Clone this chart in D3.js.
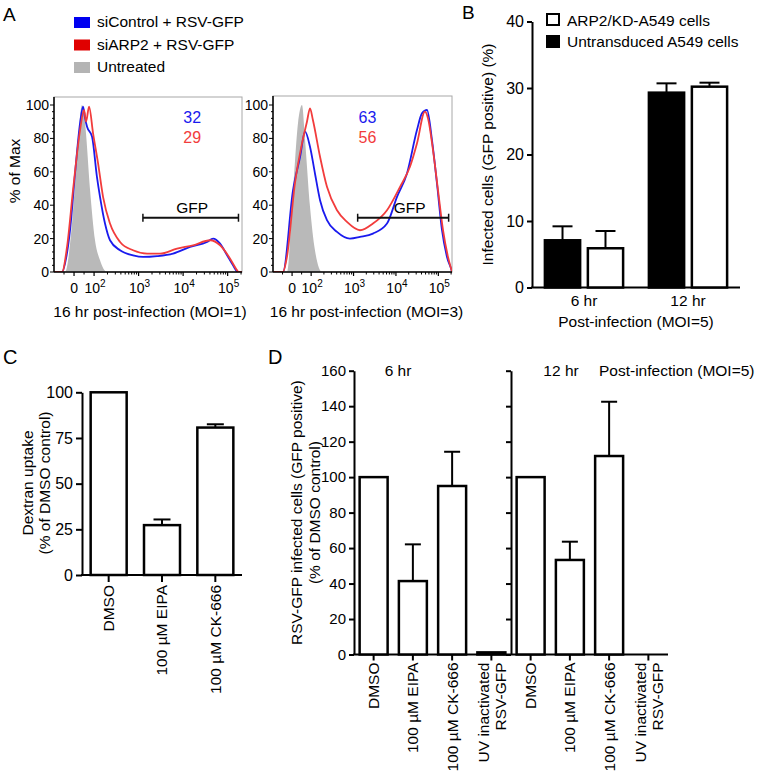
<!DOCTYPE html>
<html><head><meta charset="utf-8">
<script src="https://cdn.jsdelivr.net/npm/d3@7"></script>
<style>
body{margin:0;background:#fff}
svg{display:block}
text{font-family:"Liberation Sans",Arial,Helvetica,sans-serif;fill:#000}
</style>
</head><body>
<svg id="c" width="759" height="774"></svg>
<script>
// ================= DATA =================
// Panel A : flow cytometry histograms  [fluorescence, % of max]
const aLegend = ["siControl + RSV-GFP", "siARP2 + RSV-GFP", "Untreated"];
const a1Control = [[-100,0],[-60,0],[-40,8],[-20,25],[5,59],[30,89],[45,99],[55,92],[65,87],[90,81],[116,57],[136,45],[176,29],[228,19],[383,13],[750,10],[1259,9],[2600,9.5],[5940,11],[14300,15],[34500,18],[47100,20],[67600,17],[97200,10],[132000,4],[171000,0],[210000,0]];
const a1Arp2 = [[-100,0],[-60,0],[-35,15],[-5,49],[30,85],[50,97],[60,90],[75,99],[95,83],[123,65],[159,45],[228,29],[383,18],[750,13],[1550,11],[3020,11],[7310,14],[16700,16],[40400,19],[67600,16],[113500,8],[163000,1],[175000,0],[210000,0]];
const a1Untreated = [[-100,0],[-45,0],[-10,29],[15,69],[40,100],[55,89],[80,49],[105,19],[136,7],[195,0],[210000,0]];
const a2Control = [[-100,0],[-48,0],[5,49],[42,69],[68,84],[94,75],[123,59],[162,43],[236,31],[407,24],[824,20],[1419,21],[2870,23],[6150,29],[10600,45],[18200,59],[31300,85],[41100,95],[54000,97],[70800,79],[92900,53],[122000,25],[160000,9],[205000,1],[210000,0]];
const a2Arp2 = [[-100,0],[-48,0],[-27,9],[15,53],[52,77],[78,90],[94,98],[110,91],[162,69],[236,51],[407,37],[700,30],[1419,25],[2870,29],[6150,37],[12500,51],[21400,63],[31300,77],[48400,96],[57000,92],[74800,73],[98200,49],[129000,25],[169000,9],[205000,1],[210000,0]];
const a2Untreated = [[-100,0],[-27,0],[5,49],[31,89],[52,100],[68,79],[94,39],[123,13],[180,0],[210000,0]];
const a1Pct = [32, 29];
const a2Pct = [63, 56];
const aGate = [1250, 175000];
const aXTickValues = [0, 1e2, 1e3, 1e4, 1e5];
const aXTickLabels = [["0",""],["10","2"],["10","3"],["10","4"],["10","5"]];
const aXMinor = [-50, 50, 200,300,400,500,600,700,800,900, 2000,3000,4000,5000,6000,7000,8000,9000, 20000,30000,40000,50000,60000,70000,80000,90000, 200000];
const aYTicks = [0, 20, 40, 60, 80, 100];
const aXTitles = ["16 hr post-infection (MOI=1)", "16 hr post-infection (MOI=3)"];

// Panel B
const bGroups = ["6 hr", "12 hr"];
const bSeries = ["Untransduced A549 cells", "ARP2/KD-A549 cells"];
const bUntransduced = [7.1, 29.3];
const bUntransducedErr = [2.1, 1.4];
const bArp2kd = [5.9, 30.2];
const bArp2kdErr = [2.6, 0.6];
const bYTicks = [0, 10, 20, 30, 40];

// Panel C
const cCategories = ["DMSO", "100 \u00b5M EIPA", "100 \u00b5M CK-666"];
const cValues = [100, 27.3, 80.7];
const cErr = [0, 3.1, 1.8];
const cYTicks = [0, 25, 50, 75, 100];

// Panel D
const dGroups = ["6 hr", "12 hr"];
const dTreatments = ["DMSO", "100 \u00b5M EIPA", "100 \u00b5M CK-666", "UV inactivated|RSV-GFP"];
const d6Values = [100, 41.4, 95, 1.2];
const d6Err = [0, 20.7, 19.3, 0];
const d12Values = [100, 53.3, 111.9, 0];
const d12Err = [0, 10.3, 30.6, 0];
const dYTicks = [0, 20, 40, 60, 80, 100, 120, 140, 160];

// ================= DRAW =================
const svg = d3.select("#c");
const FS = 15.5;

function label(x, y, t, size, anchor) {
  return svg.append("text").attr("x", x).attr("y", y).attr("font-size", size || FS)
    .attr("text-anchor", anchor || "start").text(t);
}
function vLabel(x, y, lines, size, gap) {
  const t = svg.append("text").attr("transform", `translate(${x},${y}) rotate(-90)`)
    .attr("font-size", size || FS).attr("text-anchor", "middle");
  lines.forEach((l, i) => t.append("tspan").attr("x", 0).attr("y", i * (gap || 0)).text(l));
  return t;
}

// panel letters
label(3, 21, "A", 19); label(462, 19, "B", 19); label(3, 364, "C", 20); label(268, 364, "D", 20);

// ---------- Panel A ----------
const legColors = ["#0000f0", "#e00000", "#b4b4b4"];
aLegend.forEach((t, i) => {
  svg.append("rect").attr("x", 74).attr("y", 17 + i * 22.5).attr("width", 16).attr("height", 11).attr("fill", legColors[i]);
  label(97, 27 + i * 22.5, t, FS);
});

function biex(v) { return v >= 100 ? Math.log10(v) : 1.55 + 0.0045 * v; }

function histPanel(id, left, right, top, ctrl, arp, untr, pct, gfpX, pctX, titleDx, title) {
  const bottom = 272;
  const lin = d3.scaleLinear().domain([biex(-100), biex(210000)]).range([left, right]);
  const x = v => lin(biex(v));
  const y = d3.scaleLinear().domain([0, 100]).range([bottom, 105]);
  const g = svg.append("g");
  g.append("clipPath").attr("id", id).append("rect").attr("x", left).attr("y", top).attr("width", right - left).attr("height", bottom - top);
  // frame
  g.append("rect").attr("x", left).attr("y", top).attr("width", right - left).attr("height", bottom - top)
    .attr("fill", "none").attr("stroke", "#a8a8a8").attr("stroke-width", 1);
  const cg = g.append("g").attr("clip-path", `url(#${id})`);
  const area = d3.area().x(d => x(d[0])).y0(y(0)).y1(d => y(d[1])).curve(d3.curveMonotoneX);
  const line = d3.line().x(d => x(d[0])).y(d => y(d[1])).curve(d3.curveMonotoneX);
  cg.append("path").datum(untr).attr("d", area).attr("fill", "#b9b9b9");
  cg.append("path").datum(ctrl).attr("d", line).attr("fill", "none").attr("stroke", "#1a1aee").attr("stroke-width", 1.8);
  cg.append("path").datum(arp).attr("d", line).attr("fill", "none").attr("stroke", "#f23c3c").attr("stroke-width", 1.8);
  // axes
  g.append("line").attr("x1", left).attr("x2", right).attr("y1", bottom).attr("y2", bottom).attr("stroke", "#000").attr("stroke-width", 1.5);
  g.append("line").attr("x1", left).attr("x2", left).attr("y1", top).attr("y2", bottom).attr("stroke", "#000").attr("stroke-width", 1.5);
  aXTickValues.forEach((v, i) => {
    g.append("line").attr("x1", x(v)).attr("x2", x(v)).attr("y1", bottom).attr("y2", bottom + 4).attr("stroke", "#000").attr("stroke-width", 1.2);
    const t = g.append("text").attr("x", x(v) + (aXTickLabels[i][1] ? 1 : 0)).attr("y", 293).attr("font-size", 14).attr("text-anchor", "middle");
    t.append("tspan").text(aXTickLabels[i][0]);
    if (aXTickLabels[i][1]) t.append("tspan").attr("dy", -6).attr("font-size", 10).text(aXTickLabels[i][1]);
  });
  aXMinor.forEach(v => {
    g.append("line").attr("x1", x(v)).attr("x2", x(v)).attr("y1", bottom).attr("y2", bottom + 2.5).attr("stroke", "#000").attr("stroke-width", 1);
  });
  d3.range(0, 101, 4).forEach(v => {
    g.append("line").attr("x1", left - (v % 20 === 0 ? 4 : 2)).attr("x2", left).attr("y1", y(v)).attr("y2", y(v)).attr("stroke", "#000").attr("stroke-width", 1);
  });
  aYTicks.forEach(v => {
    g.append("text").attr("x", left - 5).attr("y", y(v) + 5).attr("font-size", 14).attr("text-anchor", "end").text(v);
  });
  // gate
  const gy = y(32.5);
  g.append("line").attr("x1", x(aGate[0])).attr("x2", x(aGate[1])).attr("y1", gy).attr("y2", gy).attr("stroke", "#111").attr("stroke-width", 2);
  aGate.forEach(v => g.append("line").attr("x1", x(v)).attr("x2", x(v)).attr("y1", gy - 4).attr("y2", gy + 4).attr("stroke", "#111").attr("stroke-width", 1.5));
  g.append("text").attr("x", x(gfpX)).attr("y", y(35.5)).attr("font-size", FS).attr("text-anchor", "middle").text("GFP");
  g.append("text").attr("x", x(pctX)).attr("y", y(89.5)).attr("font-size", 16).attr("text-anchor", "middle").style("fill", "#1a1aee").text(pct[0]);
  g.append("text").attr("x", x(pctX)).attr("y", y(77)).attr("font-size", 16).attr("text-anchor", "middle").style("fill", "#f23c3c").text(pct[1]);
  g.append("text").attr("x", (left + right) / 2 + titleDx).attr("y", 317).attr("font-size", FS).attr("text-anchor", "middle").text(title);
}
histPanel("clipA1", 54, 242, 97, a1Control, a1Arp2, a1Untreated, a1Pct, 16000, 16000, 2, aXTitles[0]);
histPanel("clipA2", 273, 452, 96, a2Control, a2Arp2, a2Untreated, a2Pct, 21000, 2130, 4, aXTitles[1]);
vLabel(19.5, 171, ["% of  Max"], FS);

// ---------- Panel B ----------
{
  const y = d3.scaleLinear().domain([0, 40]).range([287.5, 21.5]);
  const x0 = d3.scaleBand().domain(bGroups).range([532, 740]);
  const x1 = d3.scaleBand().domain(bSeries).range([0, x0.bandwidth()]).paddingInner(0.18).paddingOuter(0.3);
  const g = svg.append("g");
  const ax = g.append("g").attr("transform", "translate(532,0)")
    .call(d3.axisLeft(y).tickValues(bYTicks).tickSize(5).tickSizeOuter(0).tickPadding(3));
  ax.selectAll("path,line").attr("stroke", "#000").attr("stroke-width", 2);
  ax.selectAll("text").attr("font-size", 16).style("font-family", '"Liberation Sans",Arial,sans-serif');
  g.append("line").attr("x1", 531).attr("x2", 740).attr("y1", y(0)).attr("y2", y(0)).attr("stroke", "#000").attr("stroke-width", 2);
  const series = [
    {name: bSeries[0], vals: bUntransduced, err: bUntransducedErr, fill: "#000"},
    {name: bSeries[1], vals: bArp2kd, err: bArp2kdErr, fill: "#fff"}
  ];
  series.forEach(s => {
    bGroups.forEach((grp, i) => {
      const bx = x0(grp) + x1(s.name), w = x1.bandwidth(), cx = bx + w / 2;
      g.append("line").attr("x1", cx).attr("x2", cx).attr("y1", y(s.vals[i])).attr("y2", y(s.vals[i] + s.err[i])).attr("stroke", "#000").attr("stroke-width", 2);
      g.append("line").attr("x1", cx - 10).attr("x2", cx + 10).attr("y1", y(s.vals[i] + s.err[i])).attr("y2", y(s.vals[i] + s.err[i])).attr("stroke", "#000").attr("stroke-width", 2);
      g.append("rect").attr("x", bx).attr("y", y(s.vals[i])).attr("width", w).attr("height", y(0) - y(s.vals[i]))
        .attr("fill", s.fill).attr("stroke", "#000").attr("stroke-width", 2.5);
    });
  });
  bGroups.forEach(grp => label(x0(grp) + x0.bandwidth() / 2, 306, grp, FS, "middle"));
  label(636, 327, "Post-infection (MOI=5)", FS, "middle");
  vLabel(493, 154.5, ["Infected cells (GFP positive) (%)"], FS);
  // legend (ARP2/KD first)
  svg.append("rect").attr("x", 547).attr("y", 14).attr("width", 12).attr("height", 11).attr("fill", "#fff").attr("stroke", "#000").attr("stroke-width", 2);
  label(567, 25.5, bSeries[1], FS);
  svg.append("rect").attr("x", 546).attr("y", 35).attr("width", 14).attr("height", 13).attr("fill", "#000");
  label(567, 46.5, bSeries[0], FS);
}

// ---------- Panel C ----------
{
  const y = d3.scaleLinear().domain([0, 100]).range([575, 392.3]);
  const x = d3.scaleBand().domain(cCategories).range([82, 242]).paddingInner(0.325).paddingOuter(0.1625);
  const g = svg.append("g");
  const ax = g.append("g").attr("transform", "translate(82,0)")
    .call(d3.axisLeft(y).tickValues(cYTicks).tickSize(6).tickSizeOuter(0).tickPadding(3));
  ax.selectAll("path,line").attr("stroke", "#000").attr("stroke-width", 2);
  ax.selectAll("text").attr("font-size", 16).style("font-family", '"Liberation Sans",Arial,sans-serif');
  g.append("line").attr("x1", 81).attr("x2", 242).attr("y1", y(0)).attr("y2", y(0)).attr("stroke", "#000").attr("stroke-width", 2);
  cCategories.forEach((c, i) => {
    const bx = x(c), w = x.bandwidth(), cx = bx + w / 2;
    if (cErr[i] > 0) {
      g.append("line").attr("x1", cx).attr("x2", cx).attr("y1", y(cValues[i])).attr("y2", y(cValues[i] + cErr[i])).attr("stroke", "#000").attr("stroke-width", 2);
      g.append("line").attr("x1", cx - 8.5).attr("x2", cx + 8.5).attr("y1", y(cValues[i] + cErr[i])).attr("y2", y(cValues[i] + cErr[i])).attr("stroke", "#000").attr("stroke-width", 2);
    }
    g.append("rect").attr("x", bx).attr("y", y(cValues[i])).attr("width", w).attr("height", y(0) - y(cValues[i]))
      .attr("fill", "#fff").attr("stroke", "#000").attr("stroke-width", 2.5);
    g.append("line").attr("x1", cx).attr("x2", cx).attr("y1", y(0)).attr("y2", y(0) + 7).attr("stroke", "#000").attr("stroke-width", 2);
    g.append("text").attr("transform", `translate(${cx},${y(0) + 10}) rotate(-90)`).attr("dy", "0.35em")
      .attr("text-anchor", "end").attr("font-size", FS).text(c);
  });
  const t = svg.append("text").attr("transform", `translate(0,483) rotate(-90)`).attr("font-size", FS).attr("text-anchor", "middle");
  t.append("tspan").attr("x", 0).attr("y", 33).text("Dextran uptake");
  t.append("tspan").attr("x", 0).attr("y", 50).text("(% of DMSO control)");
}

// ---------- Panel D ----------
{
  const y = d3.scaleLinear().domain([0, 160]).range([654.5, 370.7]);
  const x0 = d3.scaleBand().domain(dGroups).range([354, 668]);
  const x1 = d3.scaleBand().domain(dTreatments).range([0, x0.bandwidth()]).paddingInner(0.287).paddingOuter(0.1435);
  const g = svg.append("g");
  dGroups.forEach((grp, gi) => {
    const ax = g.append("g").attr("transform", `translate(${x0(grp)},0)`)
      .call(d3.axisLeft(y).tickValues(dYTicks).tickSize(5).tickSizeOuter(0).tickPadding(3));
    ax.selectAll("path,line").attr("stroke", "#000").attr("stroke-width", 2);
    ax.selectAll("text").attr("font-size", 15).style("font-family", '"Liberation Sans",Arial,sans-serif');
    if (gi > 0) ax.selectAll("text").remove();
  });
  g.append("line").attr("x1", 353).attr("x2", 668).attr("y1", y(0)).attr("y2", y(0)).attr("stroke", "#000").attr("stroke-width", 2);
  const vals = [d6Values, d12Values], errs = [d6Err, d12Err];
  dGroups.forEach((grp, gi) => {
    dTreatments.forEach((tr, i) => {
      const bx = x0(grp) + x1(tr), w = x1.bandwidth(), cx = bx + w / 2;
      const v = vals[gi][i], e = errs[gi][i];
      if (e > 0) {
        g.append("line").attr("x1", cx).attr("x2", cx).attr("y1", y(v)).attr("y2", y(v + e)).attr("stroke", "#000").attr("stroke-width", 2);
        g.append("line").attr("x1", cx - 8).attr("x2", cx + 8).attr("y1", y(v + e)).attr("y2", y(v + e)).attr("stroke", "#000").attr("stroke-width", 2);
      }
      if (v > 0) {
        g.append("rect").attr("x", bx).attr("y", y(v)).attr("width", w).attr("height", y(0) - y(v))
          .attr("fill", "#fff").attr("stroke", "#000").attr("stroke-width", 2.5);
      }
      g.append("line").attr("x1", cx).attr("x2", cx).attr("y1", y(0)).attr("y2", y(0) + 6).attr("stroke", "#000").attr("stroke-width", 2);
      const parts = tr.split("|");
      const t = g.append("text").attr("transform", `translate(${cx},${y(0) + 8}) rotate(-90)`)
        .attr("text-anchor", "end").attr("font-size", FS);
      if (parts.length === 1) t.attr("dy", "0.35em").text(parts[0]);
      else {
        t.append("tspan").attr("x", 0).attr("y", -2).text(parts[0]);
        t.append("tspan").attr("x", 0).attr("y", 15).text(parts[1]);
      }
    });
  });
  label(398, 376, dGroups[0], FS, "middle");
  label(561, 376, dGroups[1], FS, "middle");
  label(599, 376, "Post-infection (MOI=5)", FS, "start");
  const t = svg.append("text").attr("transform", `translate(0,512.6) rotate(-90)`).attr("font-size", FS).attr("text-anchor", "middle");
  t.append("tspan").attr("x", 0).attr("y", 302).text("RSV-GFP infected cells (GFP positive)");
  t.append("tspan").attr("x", 0).attr("y", 320).text("(% of DMSO control)");
}
</script>
</body></html>
